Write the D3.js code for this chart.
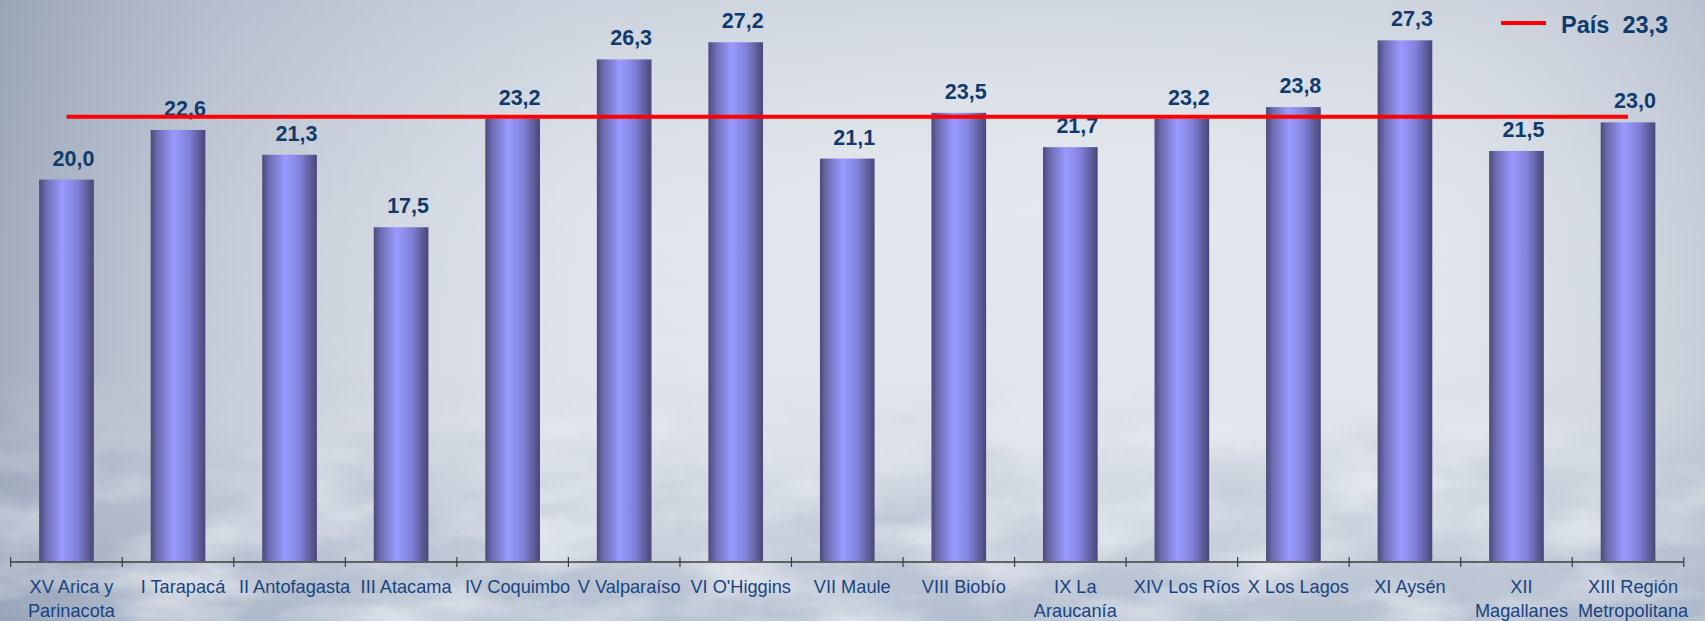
<!DOCTYPE html>
<html>
<head>
<meta charset="utf-8">
<script src="https://cdn.jsdelivr.net/npm/d3@7"></script>
<style>
  html, body { margin: 0; padding: 0; background: #d8dde5; }
  svg { display: block; }
</style>
</head>
<body>
<svg id="chart" width="1705" height="621"></svg>
<script>
// ---- data ----
const categories = [
  "XV Arica y\nParinacota", "I Tarapacá", "II Antofagasta", "III Atacama",
  "IV Coquimbo", "V Valparaíso", "VI O'Higgins", "VII Maule", "VIII Biobío",
  "IX La\nAraucanía", "XIV Los Ríos", "X Los Lagos", "XI Aysén",
  "XII\nMagallanes", "XIII Región\nMetropolitana"
];
const values = [20.0, 22.6, 21.3, 17.5, 23.2, 26.3, 27.2, 21.1, 23.5, 21.7, 23.2, 23.8, 27.3, 21.5, 23.0];
const countryLabel = ["País", "23,3"];
const countryValue = [23.3];

const W = 1705, H = 621;
const svg = d3.select("#chart");
const defs = svg.append("defs");

// ---- background (photo-like sky / snowy mountains) ----
const bgV = defs.append("linearGradient").attr("id", "bgV").attr("x1", 0).attr("y1", 0).attr("x2", 0).attr("y2", 1);
[[0, "#c6cdd9"], [0.35, "#d9dee6"], [0.68, "#dfe3ea"], [0.85, "#cdd5df"], [1, "#b6c1d0"]]
  .forEach(([o, c]) => bgV.append("stop").attr("offset", o).attr("stop-color", c));
const bgH = defs.append("linearGradient").attr("id", "bgH").attr("x1", 0).attr("y1", 0).attr("x2", 1).attr("y2", 0);
[[0, "#7d8aa3", 0.6], [0.12, "#8f9bb1", 0.32], [0.35, "#b0bacb", 0.0], [0.85, "#c0c8d4", 0.0], [1, "#9aa6b9", 0.35]]
  .forEach(([o, c, a]) => bgH.append("stop").attr("offset", o).attr("stop-color", c).attr("stop-opacity", a));
const bgR = defs.append("radialGradient").attr("id", "bgR").attr("cx", 0.62).attr("cy", 0.3).attr("r", 0.55);
[[0, "#eef1f5", 0.6], [1, "#eef1f5", 0]]
  .forEach(([o, c, a]) => bgR.append("stop").attr("offset", o).attr("stop-color", c).attr("stop-opacity", a));

// dark cloud/rock texture
const turb = defs.append("filter").attr("id", "clouds").attr("x", 0).attr("y", 0).attr("width", 1).attr("height", 1);
turb.append("feTurbulence").attr("type", "fractalNoise").attr("baseFrequency", "0.006 0.014").attr("numOctaves", 5).attr("seed", 7).attr("result", "n");
turb.append("feColorMatrix").attr("in", "n").attr("type", "matrix")
  .attr("values", "0 0 0 0 0.45  0 0 0 0 0.51  0 0 0 0 0.62  2.3 0 0 0 -0.85");
// white snow texture
const turb2 = defs.append("filter").attr("id", "snow").attr("x", 0).attr("y", 0).attr("width", 1).attr("height", 1);
turb2.append("feTurbulence").attr("type", "fractalNoise").attr("baseFrequency", "0.008 0.02").attr("numOctaves", 5).attr("seed", 3).attr("result", "n");
turb2.append("feColorMatrix").attr("in", "n").attr("type", "matrix")
  .attr("values", "0 0 0 0 0.97  0 0 0 0 0.98  0 0 0 0 1  0 2.4 0 0 -0.95");

const fadeMask = defs.append("linearGradient").attr("id", "fadeG").attr("x1", 0).attr("y1", 0).attr("x2", 0).attr("y2", 1);
[[0, 0], [0.6, 0], [0.8, 0.75], [1, 1]].forEach(([o, a]) => fadeMask.append("stop").attr("offset", o).attr("stop-color", "#fff").attr("stop-opacity", a));
defs.append("mask").attr("id", "fadeM").append("rect").attr("width", W).attr("height", H).attr("fill", "url(#fadeG)");

svg.append("rect").attr("width", W).attr("height", H).attr("fill", "url(#bgV)");
svg.append("rect").attr("width", W).attr("height", H).attr("fill", "url(#bgR)");
svg.append("rect").attr("width", W).attr("height", H).attr("fill", "url(#bgH)");
const tex = svg.append("g").attr("mask", "url(#fadeM)");
tex.append("rect").attr("width", W).attr("height", H).attr("filter", "url(#clouds)").attr("opacity", 0.75);
tex.append("rect").attr("width", W).attr("height", H).attr("filter", "url(#snow)").attr("opacity", 0.55);

// ---- scales ----
const x = d3.scaleBand().domain(categories).range([10.7, 1683.8]).paddingInner(0.51).paddingOuter(0.255);
const y = d3.scaleLinear().domain([0, 28]).range([561, 27]);

// bar gradient
const barG = defs.append("linearGradient").attr("id", "barG").attr("x1", 0).attr("y1", 0).attr("x2", 1).attr("y2", 0);
[[0, "#4a4a7c"], [0.12, "#6b6bb0"], [0.42, "#9a9aff"], [0.7, "#8080d8"], [0.9, "#5a5a96"], [1, "#484878"]]
  .forEach(([o, c]) => barG.append("stop").attr("offset", o).attr("stop-color", c));

// ---- bars ----
svg.append("g").selectAll("rect").data(values).join("rect")
  .attr("x", (d, i) => x(categories[i]))
  .attr("y", d => y(d))
  .attr("width", x.bandwidth())
  .attr("height", d => y(0) - y(d))
  .attr("fill", "url(#barG)");

// ---- value labels ----
const fmt = v => d3.format(".1f")(v).replace(".", ",");
svg.append("g").selectAll("text").data(values).join("text")
  .attr("x", (d, i) => x(categories[i]) + x.bandwidth() / 2 + 7)
  .attr("y", d => y(d) - 14)
  .attr("text-anchor", "middle")
  .attr("font-family", "Liberation Sans, Arial, sans-serif")
  .attr("font-weight", "bold")
  .attr("font-size", 21.5)
  .attr("fill", "#0f3a6c")
  .text(d => fmt(d));

// ---- x axis ----
const axisY = 562;
const ax = svg.append("g");
ax.append("line").attr("x1", x.range()[0]).attr("x2", x.range()[1]).attr("y1", axisY).attr("y2", axisY)
  .attr("stroke", "#3c3c3c").attr("stroke-width", 1.3);
const step = x.step();
const tickXs = d3.range(categories.length + 1).map(i => x.range()[0] + i * step);
ax.selectAll("line.tk").data(tickXs).join("line").attr("class", "tk")
  .attr("x1", d => d).attr("x2", d => d).attr("y1", axisY - 5).attr("y2", axisY + 5)
  .attr("stroke", "#3c3c3c").attr("stroke-width", 1.2);

const lab = ax.selectAll("text").data(categories).join("text")
  .attr("text-anchor", "middle")
  .attr("font-family", "Liberation Sans, Arial, sans-serif")
  .attr("font-size", 18.2)
  .attr("fill", "#1a4380");
lab.each(function (d) {
  const t = d3.select(this);
  d.split("\n").forEach((line, k) => {
    t.append("tspan").attr("x", x(d) + x.bandwidth() / 2 + 5).attr("y", 593 + k * 23.5).text(line);
  });
});

// ---- country average line ----
svg.append("line")
  .attr("x1", x(categories[0]) + x.bandwidth() / 2)
  .attr("x2", x(categories[categories.length - 1]) + x.bandwidth() / 2)
  .attr("y1", y(countryValue[0])).attr("y2", y(countryValue[0]))
  .attr("stroke", "#ff0000").attr("stroke-width", 4);

// ---- legend ----
svg.append("line").attr("x1", 1501).attr("x2", 1546).attr("y1", 23).attr("y2", 23)
  .attr("stroke", "#ff0000").attr("stroke-width", 4);
svg.append("text").attr("x", 1561).attr("y", 33)
  .attr("font-family", "Liberation Sans, Arial, sans-serif")
  .attr("font-weight", "bold").attr("font-size", 23.5).attr("fill", "#0f3a6c")
  .attr("xml:space", "preserve")
  .text(countryLabel[0] + "\u00a0 " + countryLabel[1]);
</script>
</body>
</html>
